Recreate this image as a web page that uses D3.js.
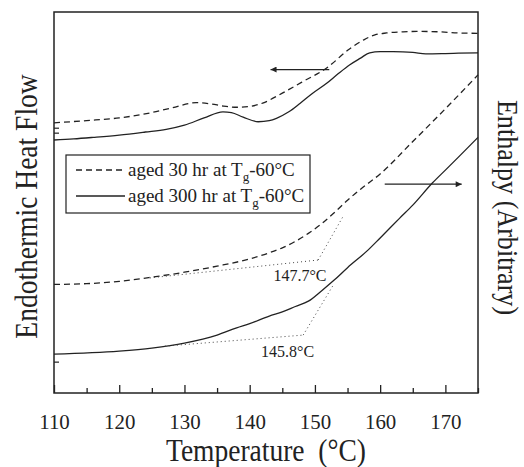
<!DOCTYPE html>
<html>
<head>
<meta charset="utf-8">
<script src="https://cdnjs.cloudflare.com/ajax/libs/d3/7.8.5/d3.min.js"></script>
<style>
  html, body { margin: 0; padding: 0; background: #fff; }
  svg { display: block; }
  text { font-family: "Liberation Serif", "Times New Roman", serif; fill: #222; }
</style>
</head>
<body>
<svg id="chart" width="524" height="467"></svg>
<script>
// Temperature grid (°C) and curves, arbitrary units (0 = bottom of frame, 100 = top)
const dscTemps30   = [110, 115, 120, 124.7, 128, 131.8, 134, 136, 138, 140, 142, 145, 148, 151.8, 155.3, 157.5, 159.2, 161, 163.5, 166, 169, 172, 175];
const dscFlow30    = [70.9, 71.5, 72.2, 73.5, 74.8, 76.2, 75.9, 75.3, 75.0, 75.2, 76.1, 78.7, 81.6, 85.3, 90.3, 92.7, 94.0, 94.5, 94.8, 94.9, 94.8, 94.5, 94.4];

const dscTemps300  = [110, 113, 116, 120, 124, 127.2, 130, 133, 135.9, 137.2, 139, 141.3, 143, 144.1, 146, 147.7, 149.5, 151.8, 153.5, 155.3, 157, 158.4, 160, 162, 165, 167, 170, 172, 175];
const dscFlow300   = [66.4, 66.7, 67.1, 67.7, 68.5, 69.2, 70.3, 72.2, 73.8, 73.6, 72.4, 71.2, 71.5, 72.1, 73.8, 76.0, 78.5, 81.3, 83.7, 86.1, 87.9, 89.3, 89.6, 89.6, 89.4, 89.0, 89.1, 89.2, 89.3];

const enthTemps30  = [110, 115, 120, 125, 130, 135, 140, 143, 145, 147, 149, 151, 153, 155, 157, 160, 165, 170, 175];
const enthalpy30   = [28.5, 28.7, 29.3, 30.4, 31.7, 33.3, 35.2, 36.8, 38.1, 39.8, 41.9, 44.4, 47.4, 50.6, 53.5, 57.5, 66.0, 74.6, 83.5];

const enthTemps300 = [110, 120, 125, 130, 135, 138, 140, 143, 145, 147, 149, 151, 153, 155, 158, 160, 163, 165, 168, 170, 172, 175];
const enthalpy300  = [10.2, 11.0, 11.8, 13.1, 15.2, 17.1, 18.2, 20.2, 21.3, 22.7, 24.1, 26.8, 29.7, 32.9, 37.3, 40.7, 45.9, 49.3, 55.1, 58.5, 61.9, 67.1];

// Tangent constructions giving the fictive temperatures
const tangent30   = { glass: [[124.7, 30.2], [150.5, 34.9]], liquid: [[150.5, 34.9], [154.3, 46.3]], label: 147.7, labelY: 29.5 };
const tangent300  = { glass: [[127, 12.3], [148.2, 15.2]], liquid: [[148.2, 15.2], [152.8, 28.3]], label: 145.8, labelY: 9.5 };

const xTicks = [110, 120, 130, 140, 150, 160, 170];
const xMinorTicks = [115, 125, 135, 145, 155, 165, 175];
const legendLabels = ["aged 30 hr at T", "aged 300 hr at T"];

const svg = d3.select("#chart");
const margin = { left: 54, right: 46, top: 12, bottom: 74 };
const W = 524, H = 467;
const x = d3.scaleLinear().domain([110, 175]).range([margin.left, W - margin.right]);
const y = d3.scaleLinear().domain([0, 100]).range([H - margin.bottom, margin.top]);
const ink = "#222";

const line = d3.line().x(d => x(d[0])).y(d => y(d[1])).curve(d3.curveMonotoneX);
const pairs = (t, v) => t.map((d, i) => [d, v[i]]);

// frame
svg.append("rect")
  .attr("x", x(110)).attr("y", y(100))
  .attr("width", x(175) - x(110)).attr("height", y(0) - y(100))
  .attr("fill", "none").attr("stroke", ink).attr("stroke-width", 1.5);

// bottom axis with inward ticks
const gx = svg.append("g").attr("transform", `translate(0,${y(0)})`);
gx.call(d3.axisBottom(x).tickValues(xTicks).tickSizeInner(-8).tickSizeOuter(0).tickPadding(20).tickFormat(d3.format("d")));
gx.select(".domain").remove();
gx.selectAll(".tick line").attr("stroke", ink).attr("stroke-width", 1.3);
gx.selectAll(".tick text").attr("font-size", 22).attr("fill", ink)
  .attr("transform", "scale(0.95,1)");
const gxm = svg.append("g").attr("transform", `translate(0,${y(0)})`);
gxm.call(d3.axisBottom(x).tickValues(xMinorTicks).tickSizeInner(-5).tickSizeOuter(0).tickFormat(""));
gxm.select(".domain").remove();
gxm.selectAll(".tick line").attr("stroke", ink).attr("stroke-width", 1.3);

// left axis: unlabeled inward ticks
const leftTicks = [69.5, 68.2, 8.1];
svg.append("g").selectAll("line").data(leftTicks).join("line")
  .attr("x1", x(110)).attr("x2", x(110) + 5)
  .attr("y1", d => y(d)).attr("y2", d => y(d))
  .attr("stroke", ink).attr("stroke-width", 1.2);

// curves
const curves = [
  { data: pairs(dscTemps30, dscFlow30), dash: "6,4" },
  { data: pairs(dscTemps300, dscFlow300), dash: null },
  { data: pairs(enthTemps30, enthalpy30), dash: "6,4" },
  { data: pairs(enthTemps300, enthalpy300), dash: null }
];
svg.append("g").selectAll("path").data(curves).join("path")
  .attr("d", d => line(d.data))
  .attr("fill", "none").attr("stroke", ink).attr("stroke-width", 1.3)
  .attr("stroke-dasharray", d => d.dash);

// tangent constructions
[tangent30, tangent300].forEach(t => {
  [t.glass, t.liquid].forEach(seg => {
    svg.append("line")
      .attr("x1", x(seg[0][0])).attr("y1", y(seg[0][1]))
      .attr("x2", x(seg[1][0])).attr("y2", y(seg[1][1]))
      .attr("stroke", "#444").attr("stroke-width", 1).attr("stroke-dasharray", "1,3");
  });
  svg.append("text")
    .attr("x", x(t.label)).attr("y", y(t.labelY))
    .attr("text-anchor", "middle").attr("font-size", 16)
    .text(`${t.label}°C`);
});

// direction arrows
const arrows = [
  { from: [152.2, 84.9], to: [143.2, 84.9] },
  { from: [160.7, 54.8], to: [172.5, 54.8] }
];
svg.append("defs").append("marker")
  .attr("id", "head").attr("viewBox", "0 0 10 10").attr("refX", 10).attr("refY", 5)
  .attr("markerWidth", 9).attr("markerHeight", 6).attr("markerUnits", "userSpaceOnUse")
  .attr("orient", "auto")
  .append("path").attr("d", "M0,0 L10,5 L0,10 Z").attr("fill", ink);
svg.append("g").selectAll("line").data(arrows).join("line")
  .attr("x1", d => x(d.from[0])).attr("y1", d => y(d.from[1]))
  .attr("x2", d => x(d.to[0])).attr("y2", d => y(d.to[1]))
  .attr("stroke", ink).attr("stroke-width", 1.2).attr("marker-end", "url(#head)");

// legend
const lg = svg.append("g").attr("transform", "translate(66,155)");
lg.append("rect").attr("width", 244).attr("height", 58)
  .attr("fill", "#fff").attr("stroke", ink).attr("stroke-width", 1.2);
legendLabels.forEach((lab, i) => {
  const cy = 15 + i * 26;
  lg.append("line").attr("x1", 10).attr("x2", 59).attr("y1", cy).attr("y2", cy)
    .attr("stroke", ink).attr("stroke-width", 1.3).attr("stroke-dasharray", i === 0 ? "6,4" : null);
  const t = lg.append("text").attr("x", 62).attr("y", cy + 6).attr("font-size", 19);
  t.append("tspan").text(lab);
  t.append("tspan").attr("font-size", 13).attr("dy", 5).text("g");
  t.append("tspan").attr("dy", -5).text("-60°C");
});

// axis titles (slightly condensed serif)
svg.append("text")
  .attr("transform", `translate(${(x(110) + x(175)) / 2},461) scale(0.86,1)`)
  .attr("text-anchor", "middle").attr("font-size", 32)
  .attr("xml:space", "preserve")
  .text("Temperature  (°C)");
svg.append("text")
  .attr("transform", `translate(37,${(y(0) + y(100)) / 2 + 4}) rotate(-90) scale(0.86,1)`)
  .attr("text-anchor", "middle").attr("font-size", 32)
  .text("Endothermic Heat Flow");
svg.append("text")
  .attr("transform", `translate(498,${(y(0) + y(100)) / 2 + 5}) rotate(90) scale(0.9,1)`)
  .attr("text-anchor", "middle").attr("font-size", 29)
  .text("Enthalpy (Arbitrary)");
</script>
</body>
</html>
